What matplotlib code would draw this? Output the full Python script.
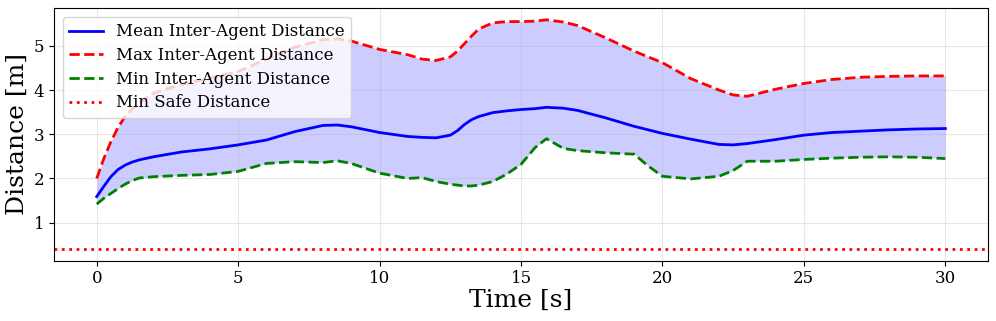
import matplotlib
matplotlib.use('Agg')
import matplotlib.pyplot as plt
import numpy as np

plt.rcParams['font.family'] = 'DejaVu Serif'

# time samples [s] and distances [m]
t = [0, 0.25, 0.5, 0.75, 1, 1.25, 1.5, 2, 3, 4, 5, 6, 7, 8, 8.5, 9, 10, 11, 11.5, 12,
     12.5, 12.75, 13, 13.25, 13.5, 14, 14.5, 15, 15.5, 15.9, 16.5, 17, 18, 19, 19.5,
     20, 21, 22, 22.5, 23, 24, 25, 26, 27, 28, 29, 30]
d_max = [2.00, 2.45, 2.83, 3.15, 3.40, 3.57, 3.70, 3.93, 4.13, 4.27, 4.42, 4.70, 4.97,
         5.14, 5.16, 5.11, 4.92, 4.80, 4.70, 4.67, 4.75, 4.88, 5.05, 5.22, 5.38, 5.52,
         5.55, 5.55, 5.56, 5.59, 5.54, 5.46, 5.18, 4.88, 4.75, 4.62, 4.26, 4.00, 3.89,
         3.86, 4.02, 4.15, 4.24, 4.29, 4.31, 4.32, 4.32]
d_mean = [1.59, 1.82, 2.04, 2.20, 2.30, 2.37, 2.42, 2.49, 2.60, 2.67, 2.76, 2.87, 3.06,
          3.20, 3.21, 3.17, 3.04, 2.95, 2.93, 2.92, 2.98, 3.08, 3.22, 3.33, 3.40, 3.49,
          3.53, 3.56, 3.58, 3.61, 3.59, 3.54, 3.37, 3.18, 3.10, 3.02, 2.89, 2.77, 2.76,
          2.79, 2.88, 2.98, 3.04, 3.07, 3.10, 3.12, 3.13]
d_min = [1.42, 1.55, 1.66, 1.77, 1.87, 1.95, 2.01, 2.04, 2.07, 2.09, 2.16, 2.34, 2.38,
         2.36, 2.40, 2.34, 2.12, 2.00, 2.02, 1.93, 1.87, 1.85, 1.83, 1.83, 1.85, 1.93,
         2.10, 2.32, 2.70, 2.90, 2.68, 2.63, 2.58, 2.55, 2.28, 2.05, 1.99, 2.05, 2.18,
         2.39, 2.39, 2.43, 2.46, 2.48, 2.49, 2.48, 2.45]
safe_dist = 0.4

fig, ax = plt.subplots(figsize=(9.96, 3.21), dpi=100)
fig.subplots_adjust(left=0.0545, right=0.9917, bottom=0.188, top=0.974)

ax.plot(t, d_mean, color='blue', linewidth=2, label='Mean Inter-Agent Distance')
ax.plot(t, d_max, color='red', linestyle='--', linewidth=2, label='Max Inter-Agent Distance')
ax.plot(t, d_min, color='green', linestyle='--', linewidth=2, label='Min Inter-Agent Distance')
ax.fill_between(t, d_min, d_max, color='blue', alpha=0.2, linewidth=0)
ax.axhline(safe_dist, color='red', linestyle=':', linewidth=2, label='Min Safe Distance')

ax.set_xlabel('Time [s]', fontsize=18, labelpad=1)
ax.set_ylabel('Distance [m]', fontsize=18)
ax.tick_params(labelsize=12)
ax.grid(True, alpha=0.3)
ax.legend(loc='upper left', fontsize=12, labelspacing=0.4)

fig.savefig('out.png', dpi=100)
